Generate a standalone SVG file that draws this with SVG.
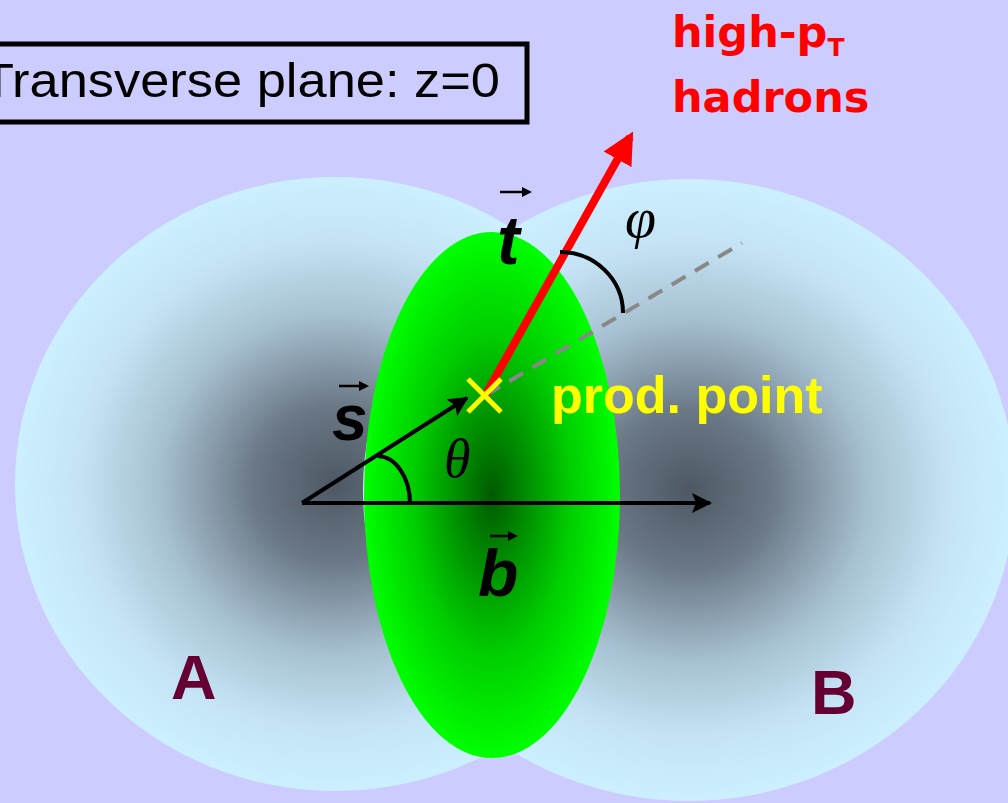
<svg xmlns="http://www.w3.org/2000/svg" width="1008" height="803" viewBox="0 0 1008 803">
<defs>
<radialGradient id="gA" cx="0.5" cy="0.5" r="0.5">
<stop offset="0" stop-color="#4d5864"/>
<stop offset="0.25" stop-color="#6a7784"/>
<stop offset="0.55" stop-color="#a6c0d1"/>
<stop offset="0.8" stop-color="#c4e4f5"/>
<stop offset="1" stop-color="#ccf0ff"/>
</radialGradient>
<radialGradient id="gG" cx="0.5" cy="0.5" r="0.5">
<stop offset="0" stop-color="#005a00"/>
<stop offset="0.6" stop-color="#00cc00"/>
<stop offset="1" stop-color="#00ff00"/>
</radialGradient>
<marker id="ab" viewBox="0 0 10 10" refX="9" refY="5" markerWidth="5" markerHeight="5" orient="auto" markerUnits="strokeWidth">
<path d="M0,0 L10,5 L0,10 L2,5 z" fill="#000"/>
</marker>
<marker id="ar" viewBox="0 0 10 10" refX="8" refY="5" markerWidth="4" markerHeight="4" orient="auto" markerUnits="strokeWidth">
<path d="M0,0 L10,5 L0,10 z" fill="#ff0000"/>
</marker>
</defs>
<style>
.lbl{font-family:"Liberation Sans",Arial,sans-serif;font-weight:bold;font-style:italic;fill:#000}
.vec{stroke:#000;stroke-width:2.5;fill:none}
.vh{fill:#000}
.nuc{font-family:"Liberation Sans",Arial,sans-serif;font-weight:bold;fill:#660033;font-size:63px}
.greek{font-family:"Liberation Serif","Times New Roman",serif;font-style:italic;fill:#000}
.red{font-family:"DejaVu Sans","Comic Sans MS",sans-serif;font-weight:bold;fill:#ff0000;font-size:43px}
</style>
<rect width="1008" height="803" fill="#ccccff"/>
<g id="nucleusA"><ellipse cx="335" cy="484" rx="320" ry="307" fill="url(#gA)"/></g>
<g id="nucleusB"><ellipse cx="689" cy="490" rx="326" ry="311" fill="url(#gA)"/></g>
<g id="overlap"><ellipse cx="492" cy="495" rx="128" ry="263" fill="url(#gG)"/></g>
<g id="title">
<rect x="-6" y="44" width="533" height="78" fill="none" stroke="#000" stroke-width="5"/>
<text x="-18" y="97" font-family="Liberation Sans,Arial,sans-serif" font-size="49" textLength="518" lengthAdjust="spacingAndGlyphs" fill="#000">Transverse plane: z=0</text>
</g>
<g id="hadrons-label">
<text class="red" x="672" y="47">high-p<tspan font-size="25" dy="9">T</tspan></text>
<text class="red" x="672" y="112">hadrons</text>
</g>
<g id="connectors">
<line x1="486" y1="395" x2="742" y2="243" stroke="#888" stroke-width="4" stroke-dasharray="16,11"/>
<line x1="302" y1="503" x2="710" y2="503" stroke="#000" stroke-width="4" marker-end="url(#ab)"/>
<line x1="302" y1="503" x2="467" y2="398" stroke="#000" stroke-width="4" marker-end="url(#ab)"/>
<path d="M378,456 A33,47 0 0 1 410,503" fill="none" stroke="#000" stroke-width="4"/>
<line x1="486" y1="394" x2="630" y2="137" stroke="#ff0000" stroke-width="8" marker-end="url(#ar)"/>
<path d="M560,252 A63,61 0 0 1 623,313" fill="none" stroke="#000" stroke-width="4"/>
</g>
<g id="prod-point">
<path d="M468,379 L501,412 M501,379 L468,412" stroke="#ffff00" stroke-width="5"/>
<text x="551" y="413" font-family="Liberation Sans,Arial,sans-serif" font-weight="bold" font-size="52" fill="#ffff00">prod. point</text>
</g>
<g id="labels">
<text class="lbl" x="497" y="264" font-size="68">t</text>
<path class="vec" d="M500,192 H524"/><path class="vh" d="M532,192 L522,187 L522,197 z"/>
<text class="lbl" x="332" y="440" font-size="64">s</text>
<path class="vec" d="M339,386 H361"/><path class="vh" d="M369,386 L359,381 L359,391 z"/>
<text class="lbl" x="478" y="596" font-size="66">b</text>
<path class="vec" d="M490,536 H510"/><path class="vh" d="M518,536 L508,531 L508,541 z"/>
<text class="greek" x="444" y="477" font-size="54">θ</text>
<text class="greek" x="625" y="237" font-size="56">φ</text>
<text class="nuc" x="171" y="699">A</text>
<text class="nuc" x="811" y="714">B</text>
</g>
</svg>
